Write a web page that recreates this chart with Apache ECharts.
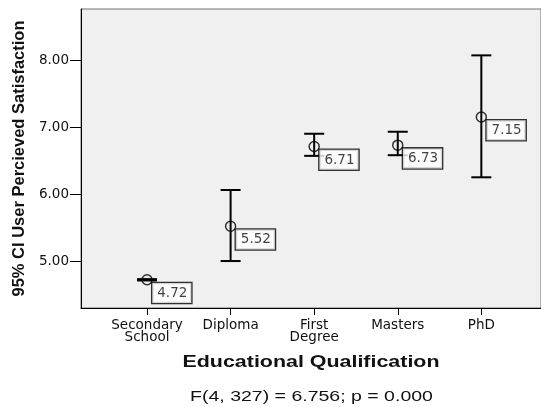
<!DOCTYPE html>
<html>
<head>
<meta charset="utf-8">
<script src="https://cdn.jsdelivr.net/npm/echarts@6/dist/echarts.min.js"></script>
<style>
  html, body { margin: 0; padding: 0; background: #fff; }
  #chart { width: 541px; height: 407px; }
</style>
</head>
<body>
<div id="chart"></div>
<script>
// Mean satisfaction with 95% confidence intervals per qualification group
const categories = ['Secondary\nSchool', 'Diploma', 'First\nDegree', 'Masters', 'PhD'];
const means = [4.72, 5.52, 6.71, 6.73, 7.15];
const lowerCI = [4.71, 5.00, 6.57, 6.58, 6.25];
const upperCI = [4.73, 6.06, 6.90, 6.93, 8.07];
const yTicks = [5, 6, 7, 8];
const xTicks = [0, 1, 2, 3, 4];

const xTitle = 'Educational Qualification';
const yTitle = '95% CI User Percieved Satisfaction';
const statLine = 'F(4, 327) = 6.756; p = 0.000';

const SANS = '"Liberation Sans", Arial, Helvetica, sans-serif';
const WIDE = '"DejaVu Sans", Verdana, sans-serif';

const chart = echarts.init(document.getElementById('chart'), null, { renderer: 'canvas' });

const barData = categories.map((c, i) => [i, lowerCI[i], upperCI[i]]);
const meanData = categories.map((c, i) => [i, means[i]]);

chart.setOption({
  animation: false,
  backgroundColor: '#ffffff',
  graphic: [
    {
      type: 'text',
      x: 311, y: 362,
      scaleX: 1.26,
      style: {
        text: xTitle, font: 'bold 17px ' + SANS, fill: '#111',
        align: 'center', verticalAlign: 'middle',
        textAlign: 'center', textVerticalAlign: 'middle'
      }
    },
    {
      type: 'text',
      x: 311.5, y: 397,
      scaleX: 1.3,
      style: {
        text: statLine, font: '15px ' + SANS, fill: '#111',
        align: 'center', verticalAlign: 'middle',
        textAlign: 'center', textVerticalAlign: 'middle'
      }
    }
  ],
  grid: {
    left: 81, top: 9, width: 461, height: 299,
    show: true,
    backgroundColor: '#f0f0f0',
    borderColor: '#707070',
    borderWidth: 1
  },
  xAxis: {
    type: 'value',
    min: -0.79,
    max: 4.714,
    splitLine: { show: false },
    axisLine: { show: true, onZero: false, lineStyle: { color: '#000', width: 1 } },
    axisTick: { show: true, customValues: xTicks, length: 7, lineStyle: { color: '#000', width: 1 } },
    axisLabel: {
      customValues: xTicks,
      formatter: v => categories[Math.round(v)] || '',
      fontFamily: WIDE, fontSize: 13.5, color: '#111', lineHeight: 12.5, margin: 11
    }
  },
  yAxis: {
    type: 'value',
    min: 4.299,
    max: 8.762,
    splitLine: { show: false },
    axisLine: { show: true, onZero: false, lineStyle: { color: '#000', width: 1 } },
    axisTick: { show: true, customValues: yTicks, length: 11, lineStyle: { color: '#000', width: 1 } },
    axisLabel: {
      customValues: yTicks,
      formatter: v => v.toFixed(2),
      fontFamily: WIDE, fontSize: 13.5, color: '#111', margin: 12
    },
    name: yTitle,
    nameLocation: 'middle',
    nameRotate: 90,
    nameGap: 53,
    nameTextStyle: { fontFamily: SANS, fontSize: 16.5, fontWeight: 'bold', color: '#111' }
  },
  series: [
    {
      type: 'custom',
      data: barData,
      renderItem: (params, api) => {
        const x = api.value(0);
        const lo = api.coord([x, api.value(1)]);
        const hi = api.coord([x, api.value(2)]);
        const half = 10;
        const style = { stroke: '#000', lineWidth: 2 };
        return {
          type: 'group',
          children: [
            { type: 'line', shape: { x1: lo[0], y1: lo[1], x2: hi[0], y2: hi[1] }, style },
            { type: 'line', shape: { x1: lo[0] - half, y1: lo[1], x2: lo[0] + half, y2: lo[1] }, style },
            { type: 'line', shape: { x1: hi[0] - half, y1: hi[1], x2: hi[0] + half, y2: hi[1] }, style }
          ]
        };
      },
      z: 2
    },
    {
      type: 'scatter',
      data: meanData,
      symbol: 'circle',
      symbolSize: 10,
      itemStyle: { color: 'rgba(0,0,0,0)', borderColor: '#000', borderWidth: 1.5 },
      label: {
        show: true,
        position: [11, 9],
        formatter: p => p.value[1].toFixed(2),
        fontFamily: WIDE,
        fontSize: 13.5,
        lineHeight: 15,
        color: '#111',
        backgroundColor: '#fff',
        borderColor: '#000',
        borderWidth: 1.3,
        padding: [3, 4, 2, 5]
      },
      z: 3
    }
  ]
});
</script>
</body>
</html>
